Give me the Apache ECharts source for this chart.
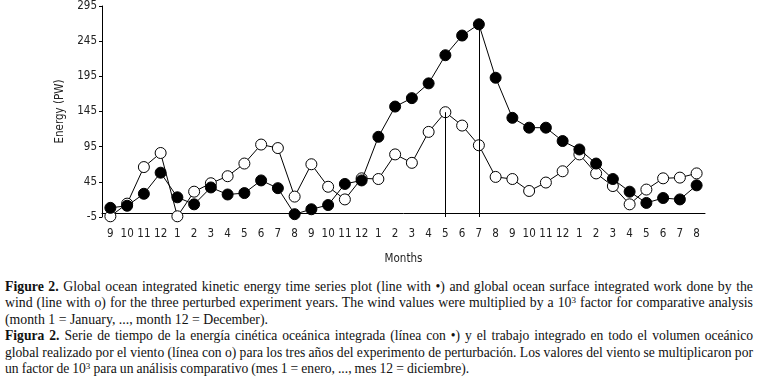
<!DOCTYPE html>
<html>
<head>
<meta charset="utf-8">
<script src="https://cdn.jsdelivr.net/npm/echarts@6/dist/echarts.min.js"></script>
<style>
  html, body { margin: 0; padding: 0; background: #fff; }
  #chart { position: absolute; left: 0; top: 0; width: 757px; height: 270px; }
  #caption {
    position: absolute; left: 5px; top: 279px; width: 748px;
    font-family: "Liberation Serif", "Times New Roman", serif;
    font-size: 13.8px; line-height: 16.4px; color: #111;
    text-align: justify;
  }
  #caption p { margin: 0; }
  #caption p.es { font-size: 13.6px; word-spacing: -0.35px; }
  #caption p.es span.lead { word-spacing: 0; }
  #caption sup { font-size: 9px; line-height: 0; vertical-align: 4px; }
</style>
</head>
<body>
<div id="chart"></div>
<div id="caption">
  <p><b>Figure 2.</b> Global ocean integrated kinetic energy time series plot (line with &#8226;) and global ocean surface integrated work done by the wind (line with o) for the three perturbed experiment years. The wind values were multiplied by a 10<sup>3</sup> factor for comparative analysis (month 1 = January, ..., month 12 = December).</p>
  <p class="es"><span class="lead"><b>Figura 2.</b> Serie de tiempo de la energía cinética oceánica integrada (línea con &#8226;) y el trabajo integrado en todo el volumen oceánico </span>global realizado por el viento (línea con o) para los tres años del experimento de perturbación. Los valores del viento se multiplicaron por un factor de 10<sup>3</sup> para un análisis comparativo (mes 1 = enero, ..., mes 12 = diciembre).</p>
</div>
<script>
// month labels, Sep of year 1 to Aug of year 4
const months = ['9','10','11','12','1','2','3','4','5','6','7','8',
  '9','10','11','12','1','2','3','4','5','6','7','8',
  '9','10','11','12','1','2','3','4','5','6','7','8'];

// kinetic energy (filled circles)
const kinetic = [8, 11, 28, 58, 23, 13, 37, 27, 29, 47, 36, -1,
  6, 12, 42, 47, 109, 152, 164, 185, 225, 253, 269, 193,
  136, 122, 122, 103, 91, 71, 49, 31, 15, 22, 20, 40];

// wind work x 10^3 (open circles)
const wind = [-4, 14, 66, 86, -4, 31, 43, 53, 71, 98, 93, 24,
  70, 38, 20, 50, 49, 84, 72, 116, 144, 125, 97, 52,
  49, 32, 44, 60, 84, 57, 39, 13, 34, 50, 51, 57];

const yTicks = [-5, 45, 95, 145, 195, 245, 295];

// months where a drop line is drawn down to the axis
const peakWind = 20;
const peakKinetic = 22;

const narrow = '"DejaVu Sans Condensed", "Liberation Sans Narrow", "Arial Narrow", sans-serif';

let chart = echarts.init(document.getElementById('chart'));

chart.setOption({
  animation: false,
  grid: { left: 102, right: 52, top: 6, bottom: 50 },
  xAxis: {
    type: 'category',
    data: months,
    boundaryGap: true,
    name: 'Months',
    nameLocation: 'middle',
    nameGap: 36,
    nameTextStyle: { fontFamily: narrow, fontSize: 11.5, color: '#222' },
    axisLine: { lineStyle: { color: '#000', width: 1 } },
    axisTick: { interval: 0, length: 4, lineStyle: { color: '#000' } },
    axisLabel: { interval: 0, margin: 11, fontFamily: narrow, fontSize: 11.5, color: '#222' },
    splitLine: { show: false }
  },
  yAxis: {
    type: 'value',
    min: yTicks[0],
    max: yTicks[yTicks.length - 1],
    interval: 50,
    name: 'Energy (PW)',
    nameLocation: 'middle',
    nameGap: 30,
    nameTextStyle: { fontFamily: narrow, fontSize: 11.5, color: '#222' },
    axisLine: { show: true, lineStyle: { color: '#000', width: 1 } },
    axisTick: { show: true, length: 3, lineStyle: { color: '#000' } },
    axisLabel: { margin: 5, fontFamily: narrow, fontSize: 11.5, color: '#222' },
    splitLine: { show: false }
  },
  series: [
    {
      name: 'wind',
      type: 'line',
      data: wind,
      symbol: 'circle',
      symbolSize: 11,
      showAllSymbol: true,
      lineStyle: { color: '#000', width: 1 },
      itemStyle: { color: '#fff', borderColor: '#000', borderWidth: 1 },
      markLine: {
        silent: true,
        symbol: 'none',
        label: { show: false },
        lineStyle: { color: '#000', width: 1, type: 'solid' },
        data: [
          [{ coord: [peakWind, wind[peakWind]] }, { coord: [peakWind, yTicks[0]] }],
          [{ coord: [peakKinetic, kinetic[peakKinetic]] }, { coord: [peakKinetic, yTicks[0]] }]
        ]
      },
      z: 2
    },
    {
      name: 'kinetic',
      type: 'line',
      data: kinetic,
      symbol: 'circle',
      symbolSize: 11,
      showAllSymbol: true,
      lineStyle: { color: '#000', width: 1 },
      itemStyle: { color: '#000', borderColor: '#000', borderWidth: 1 },
      z: 3
    }
  ]
});
</script>
</body>
</html>
